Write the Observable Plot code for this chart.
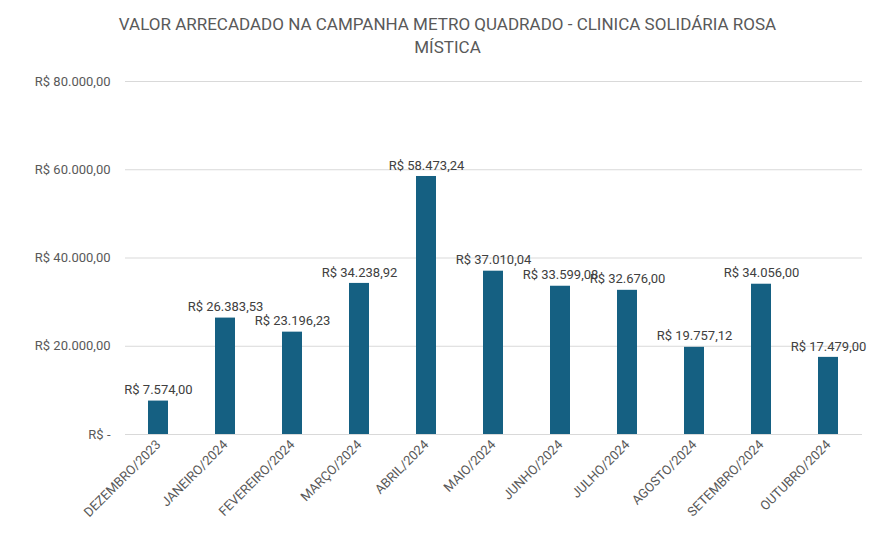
<!DOCTYPE html>
<html><head><meta charset="utf-8">
<script src="https://cdn.jsdelivr.net/npm/d3@7"></script>
<script src="https://cdn.jsdelivr.net/npm/@observablehq/plot@0.6"></script>
<style>
body{margin:0;background:#fff;font-family:Roboto,"Open Sans",sans-serif;}
#t{width:895px;text-align:center;color:#595959;font-size:17px;line-height:23px;padding-top:13px;height:57px;box-sizing:content-box}
</style></head><body>
<div id="t">VALOR ARRECADADO NA CAMPANHA METRO QUADRADO - CLINICA SOLIDÁRIA ROSA<br>MÍSTICA</div>
<div id="c"></div>
<script>
const months=["DEZEMBRO/2023","JANEIRO/2024","FEVEREIRO/2024","MARÇO/2024","ABRIL/2024","MAIO/2024","JUNHO/2024","JULHO/2024","AGOSTO/2024","SETEMBRO/2024","OUTUBRO/2024"];
const values=[7574.00,26383.53,23196.23,34238.92,58473.24,37010.04,33599.08,32676.00,19757.12,34056.00,17479.00];
const yTicks=[0,20000,40000,60000,80000];
const data=months.map((m,i)=>({m,v:values[i]}));
const brl=v=>v===0?"R$ -":"R$ "+v.toLocaleString("pt-BR",{minimumFractionDigits:2,maximumFractionDigits:2});
const chart=Plot.plot({
  width:895,height:470,marginTop:11,marginBottom:106,marginLeft:125,marginRight:33,
  style:{fontFamily:"Roboto,sans-serif",fontSize:"13px",color:"#595959"},
  x:{domain:months,paddingInner:0.7,paddingOuter:0.33,label:null,tickSize:0,tickRotate:-45,tickPadding:8},
  y:{domain:[0,80000],ticks:yTicks,tickFormat:brl,label:null,tickSize:0,tickPadding:15},
  marks:[
    Plot.gridY(yTicks,{stroke:"#d9d9d9",strokeOpacity:1}),
    Plot.barY(data,{x:"m",y:"v",fill:"#156082"}),
    Plot.text(data,{x:"m",y:"v",text:d=>brl(d.v),dy:-11,fill:"#404040",fontSize:13})
  ]
});
document.getElementById("c").append(chart);
</script></body></html>
